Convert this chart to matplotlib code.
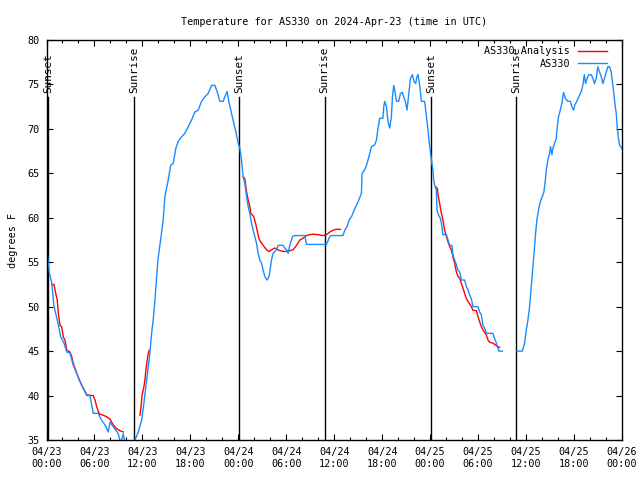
import numpy as np
import matplotlib
matplotlib.use("Agg")
import matplotlib.pyplot as plt
from matplotlib.ticker import MultipleLocator

plt.rcParams['font.family'] = ['DejaVu Sans Mono']

# hours since 2024-04-23 00:00 UTC ; temperature in degrees F
obs_hours = [0.1, 0.35, 0.65, 0.94, 1.35, 1.78, 2.19, 2.53, 2.94, 3.35, 3.78, 4.19, 4.6, 5.03, 5.44,
             5.85, 6.48, 6.9, 7.31, 7.73, 7.94, 8.35, 8.98, 9.28, 9.6, 9.81, 10.3, 11.06, 11.48, 11.9,
             12.19, 12.53, 12.94, 13.15, 13.35, 13.56, 13.94, 14.6, 14.81, 15.23, 15.53, 15.85, 16.19,
             16.48, 16.9, 17.31, 17.73, 18.15, 18.56, 18.98, 19.4, 19.81, 20.23, 20.65, 21.06, 21.35,
             21.69, 22.1, 22.31, 22.6, 22.85, 23.15, 23.44, 23.78, 23.98, 24.19, 24.4, 24.6, 24.81,
             25.03, 25.23, 25.44, 25.65, 25.85, 26.06, 26.28, 26.48, 26.69, 26.9, 27.1, 27.31, 27.6,
             27.85, 28.15, 28.35, 28.78, 28.98, 29.6, 29.81, 30.03, 30.23, 30.44, 30.78, 31.06, 32.31,
             32.53, 35.03, 35.44, 35.65, 37.1, 37.31, 37.6, 37.85, 38.15, 38.56, 38.98, 39.4, 39.48,
             39.81, 40.03, 40.35, 40.65, 41.06, 41.28, 41.48, 41.69, 42.1, 42.19, 42.31, 42.53, 42.73,
             42.94, 43.15, 43.28, 43.44, 43.56, 43.78, 44.06, 44.28, 44.53, 44.69, 44.9, 45.1, 45.31,
             45.53, 45.78, 45.98, 46.19, 46.35, 46.48, 46.69, 46.9, 47.31, 47.53, 47.73, 47.85, 48.03,
             48.15, 48.35, 48.44, 48.56, 48.78, 48.85, 49.06, 49.28, 49.4, 49.6, 50.03, 50.23, 50.44,
             50.73, 50.85, 51.06, 51.28, 51.48, 51.69, 51.9, 52.31, 52.53, 52.73, 52.94, 53.15, 53.35,
             53.98, 54.19, 54.4, 54.6, 54.81, 55.03, 55.85, 56.06, 56.28, 56.48, 56.6, 57.03, 57.9,
             58.85, 59.53, 59.81, 60.03, 60.23, 60.44, 60.65, 60.85, 61.03, 61.19, 61.35, 61.6, 61.78,
             62.03, 62.23, 62.4, 62.53, 62.73, 62.94, 63.06, 63.23, 63.35, 63.56, 63.78, 63.9, 64.06,
             64.28, 64.48, 64.69, 64.94, 65.23, 65.53, 65.73, 65.94, 66.1, 66.35, 66.69, 66.9, 67.1,
             67.28, 67.44, 67.65, 67.85, 68.15, 68.35, 68.56, 68.78, 68.98, 69.19, 69.4, 69.6, 69.81,
             70.03, 70.23, 70.44, 70.65, 70.85, 70.98, 71.1, 71.28, 71.4, 71.53, 71.69, 71.81, 72.0]
obs_temp = [56, 53.8, 52.7, 50, 48.5, 46.6, 45.9, 44.9, 44.8, 43.4, 42.5, 41.6, 40.8, 40, 40,
            38, 38, 37.2, 36.7, 35.9, 37, 36.5, 35.7, 34.6, 35.7, 34.6, 34.2, 35, 35.9, 37.2,
            39.2, 41.75, 44.8, 47, 48.5, 50.7, 55.25, 59.75, 62.4, 64.25, 65.9, 66.1, 67.85,
            68.6, 69.1, 69.5, 70.25, 71, 71.9, 72.1, 73.1, 73.6, 74, 74.9, 74.9, 74.2,
            73.1, 73.1, 73.6, 74.2, 72.9, 71.75, 70.6, 69.3, 68.4, 67.8, 66.5, 64.6, 63.9,
            62.4, 61.25, 60.5, 59.4, 58.6, 57.9, 57.1, 56, 55.25, 54.9, 54.1, 53.4, 53,
            53.4, 55.25, 56, 56.4, 56.9, 56.9, 56.6, 56.4, 56, 56.9, 57.9, 58, 58,
            57, 57, 57.9, 58, 58, 58.6, 59, 59.75, 60.1, 61, 61.8, 62.75, 65,
            65.4, 65.9, 66.9, 68, 68.2, 68.75, 70.1, 71.2, 71.2, 72.5, 73.1, 72.5, 70.8,
            70.1, 71.4, 73.6, 74.9, 74.4, 73.1, 73.1, 74, 74.1, 73.6, 73.1, 72.1, 73.8,
            75.7, 76.1, 75.3, 75.1, 75.9, 76.1, 74.9, 73.1, 73.1, 71.4, 69.9, 68.75, 67.4,
            66.5, 65.4, 64.25, 63.7, 63.1, 60.9, 60.3, 59.9, 59.4, 58.1, 58.1, 57.5, 56.9,
            56.9, 55.8, 55.25, 54.7, 54.1, 53.9, 53, 53, 52.25, 51.9, 51.3, 50.9, 50,
            50, 49.4, 49.1, 47.9, 47.6, 47, 47, 46.4, 45.9, 45.3, 45, 45, np.nan,
            45, 45, 45.9, 47.4, 48.5, 50, 52.25, 54.5, 56.4, 58.25, 59.75, 61.1, 61.8,
            62.4, 62.9, 64.1, 65.4, 66.5, 67.25, 68, 67.1, 67.8, 68.4, 68.9, 70.25, 71.4,
            72.1, 72.9, 74.1, 73.4, 73.1, 73.1, 72.5, 72.1, 72.7, 73.1, 73.8, 74.2, 74.9,
            76.1, 75.1, 75.7, 76.1, 76.1, 75.7, 75.1, 75.7, 77, 76.4, 75.9, 75.1, 75.7,
            76.4, 77, 77, 76.4, 74.9, 74, 72.9, 71.75, 70.25, 69.1, 68.2, 68, 67.8]

ana_hours = [0.65, 0.94, 1.15, 1.35, 1.48, 1.69, 1.9, 2.1, 2.31, 2.53, 2.94, 3.15, 3.35, 3.56, 3.78,
             4.19, 4.6, 5.03, 5.65, 5.85, 6.06, 6.28, 6.48, 6.69, 7.1, 7.53, 7.94, 8.35, 8.78, 9.19,
             9.6, 10.0,
             11.7, 11.83, 11.95, 12.19, 12.31, 12.44, 12.6, 12.73, 12.85, 13.0,
             24.6, 24.81, 25.03, 25.23, 25.44, 25.56, 25.78, 25.94, 26.15, 26.35, 26.56, 26.78, 27.1,
             27.53, 27.85, 28.15, 28.56, 29.19, 29.81, 30.44, 30.85, 31.28, 31.69, 32.1, 32.53, 32.94,
             33.35, 33.98, 34.6, 35.03, 35.44, 35.85, 36.28, 36.78, 37.0,
             48.69, 48.9, 48.98, 49.19, 49.4, 49.6, 49.81, 50.03, 50.23, 50.44, 50.65, 50.85, 51.06,
             51.28, 51.48, 51.69, 51.9, 52.1, 52.31, 52.53, 52.73, 53.15, 53.35, 53.78, 53.98, 54.19,
             54.4, 54.6, 55.03, 55.23, 55.44, 55.85, 56.28, 56.69]
ana_temp = [52.5, 52.5, 51.5, 50.75, 49.25, 47.9, 47.75, 46.6, 46.25, 45.1, 44.9, 44.4, 43.6, 43.1, 42.5,
            41.6, 40.8, 40.1, 40, 40, 39.5, 38.75, 38.2, 37.9, 37.8, 37.6, 37.35, 36.7, 36.25, 36.05,
            35.9, np.nan,
            37.8, 38.75, 40, 41, 41.75, 42.9, 44, 44.75, 45.1, np.nan,
            64.6, 64.4, 62.9, 62, 61.25, 60.5, 60.3, 60.1, 59.4, 58.6, 57.7, 57.3, 56.9,
            56.4, 56.2, 56.4, 56.6, 56.3, 56.2, 56.3, 56.4, 56.9, 57.5, 57.7, 58.0, 58.1,
            58.15, 58.1, 58.0, 58.1, 58.4, 58.6, 58.7, 58.7, np.nan,
            63.5, 63.3, 62.6, 61.6, 60.5, 59.75, 58.6, 57.9, 57.3, 56.75, 56.4, 55.6, 54.9,
            53.9, 53.4, 53.2, 52.6, 52.1, 51.5, 50.9, 50.6, 50, 49.6, 49.55, 48.9, 48.3,
            47.75, 47.4, 46.8, 46.25, 46, 45.9, 45.6, 45.4]

event_hours = [0.19, 10.95, 24.1, 34.8, 48.1, 58.8]
event_names = ["Sunset", "Sunrise", "Sunset", "Sunrise", "Sunset", "Sunrise"]

xtick_hours = [0, 6, 12, 18, 24, 30, 36, 42, 48, 54, 60, 66, 72]
xtick_labels = ["04/23\n00:00", "04/23\n06:00", "04/23\n12:00", "04/23\n18:00",
                "04/24\n00:00", "04/24\n06:00", "04/24\n12:00", "04/24\n18:00",
                "04/25\n00:00", "04/25\n06:00", "04/25\n12:00", "04/25\n18:00",
                "04/26\n00:00"]

fs = 7.3
fig = plt.figure(figsize=(6.4, 4.8), dpi=100)
ax = fig.add_axes([46.5/640, 40/480, (622-46.5)/640, 400/480])

line_top = (440 - 97) / 400
for h, name in zip(event_hours, event_names):
    ax.axvline(h, ymin=0, ymax=line_top, color='black', lw=1.0)
    ax.text(h, line_top + 0.01, name, transform=ax.get_xaxis_transform(), rotation=90,
            ha='center', va='bottom', fontsize=fs + 0.6)

ax.plot(ana_hours, ana_temp, color='#ff0000', lw=1.0, label='AS330 Analysis')
ax.plot(obs_hours, obs_temp, color='#1a8cff', lw=1.0, label='AS330')

ax.set_xlim(0, 72)
ax.set_ylim(35, 80)
ax.set_xticks(xtick_hours)
ax.set_xticklabels(xtick_labels, fontsize=fs)
ax.xaxis.set_minor_locator(MultipleLocator(2))
ax.yaxis.set_major_locator(MultipleLocator(5))
ax.tick_params(axis='both', which='major', direction='in', top=True, right=True,
               length=4, width=0.8, labelsize=fs, pad=5)
ax.tick_params(axis='both', which='minor', direction='in', top=True, right=True,
               length=2.5, width=0.8)
ax.tick_params(axis='y', which='minor', left=False, right=False)
for s in ax.spines.values():
    s.set_linewidth(1.0)

ax.set_ylabel('degrees F', fontsize=fs, labelpad=7)
ax.set_title('Temperature for AS330 on 2024-Apr-23 (time in UTC)', fontsize=fs, pad=11)

leg = ax.legend(loc='upper right', frameon=False, markerfirst=False, fontsize=fs,
                handlelength=2.8, handletextpad=0.8, labelspacing=0.25,
                borderaxespad=0.2, bbox_to_anchor=(0.984, 1.0))

fig.savefig('out.png', dpi=100)
